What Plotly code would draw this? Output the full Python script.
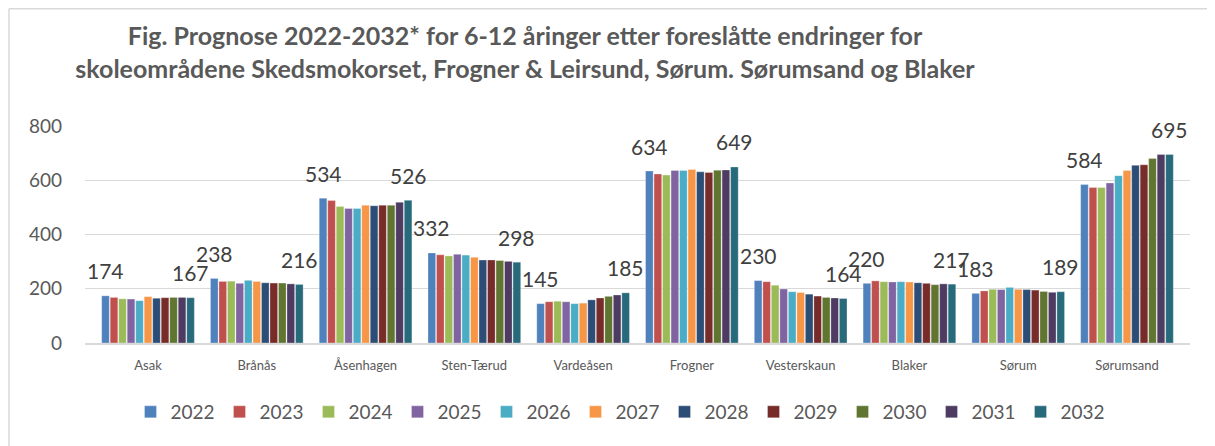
import plotly.graph_objects as go

categories = ["Asak", "Brånås", "Åsenhagen", "Sten-Tærud", "Vardeåsen", "Frogner",
              "Vesterskaun", "Blaker", "Sørum", "Sørumsand"]
years = ["2022", "2023", "2024", "2025", "2026", "2027", "2028", "2029", "2030", "2031", "2032"]

asak = [174, 168, 163, 162, 156, 171, 165, 167, 168, 168, 167]
branas = [238, 227, 228, 220, 231, 227, 222, 221, 221, 218, 216]
asenhagen = [534, 525, 503, 496, 496, 508, 506, 508, 508, 519, 526]
sten_taerud = [332, 325, 321, 327, 324, 316, 306, 306, 304, 301, 298]
vardeasen = [145, 152, 154, 152, 145, 147, 159, 166, 172, 177, 185]
frogner = [634, 623, 619, 636, 636, 640, 631, 629, 637, 638, 649]
vesterskaun = [230, 226, 213, 199, 189, 186, 180, 173, 168, 166, 164]
blaker = [220, 229, 226, 225, 226, 225, 222, 220, 215, 218, 217]
sorum = [183, 192, 198, 197, 205, 198, 197, 195, 190, 187, 189]
sorumsand = [584, 573, 573, 590, 617, 636, 655, 657, 680, 695, 695]

colors = ["#4F81BD", "#C0504D", "#9BBB59", "#8064A2", "#4BACC6", "#F79646",
          "#2C4D75", "#772C2A", "#5F7530", "#4D3B62", "#276A7C"]

rows = [asak, branas, asenhagen, sten_taerud, vardeasen, frogner,
        vesterskaun, blaker, sorum, sorumsand]

FONT = "Lato"
GRAY = "#595959"

# page is rendered with an 8px body offset; figure coords = page coords - 8
OFF = 8
W, H = 1215 - OFF, 446 - OFF

fig = go.Figure()
for j, yr in enumerate(years):
    fig.add_trace(go.Bar(
        name=yr, x=categories, y=[r[j] for r in rows],
        marker=dict(color=colors[j], line=dict(color="rgba(255,255,255,0.6)", width=0.5)),
        hoverinfo="x+y+name",
    ))

bargap = 0.14
nb = len(years)
slot = (1 - bargap) / nb
annotations = []
for i, r in enumerate(rows):
    for j in (0, nb - 1):
        off = -(1 - bargap) / 2 + (j + 0.5) * slot
        annotations.append(dict(
            x=i + off, y=r[j], xref="x", yref="y", text=str(r[j]),
            showarrow=False, yanchor="middle", yshift=25,
            font=dict(family=FONT, size=21, color="#404040"),
        ))

# plot area in page pixels: left 85, right 1190, top 126, bottom 343
PL = 85 - OFF
PR = W - (1190 - OFF)
PT = 126 - OFF
PB = H - (343 - OFF)
PW, PH = W - PL - PR, H - PT - PB

def px_x(page_x):
    return (page_x - OFF - PL) / PW

def px_y(page_y):
    return (H - PB - (page_y - OFF)) / PH

# chart border (left and top edges visible)
bx = px_x(9)
by = px_y(8.7)
shapes = [
    dict(type="line", xref="paper", yref="paper",
         x0=bx, x1=bx, y0=px_y(470), y1=by,
         line=dict(color="#D9D9D9", width=1.5)),
    dict(type="line", xref="paper", yref="paper",
         x0=bx, x1=px_x(1240), y0=by, y1=by,
         line=dict(color="#D9D9D9", width=1.5)),
]

fig.update_layout(
    width=W, height=H,
    margin=dict(l=PL, r=PR, t=PT, b=PB, autoexpand=False),
    paper_bgcolor="white", plot_bgcolor="white",
    barmode="group", bargap=bargap, bargroupgap=0.1,
    title=dict(
        text="<b>Fig. Prognose 2022-2032* for 6-12 åringer etter foreslåtte endringer for<br>"
             "skoleområdene Skedsmokorset, Frogner & Leirsund, Sørum. Sørumsand og Blaker</b>",
        x=(525 - OFF) / W, xanchor="center", y=1 - (45 - OFF) / H, yanchor="top",
        font=dict(family=FONT, size=25, color=GRAY),
    ),
    xaxis=dict(
        tickfont=dict(family=FONT, size=13, color=GRAY),
        showline=True, linecolor="#D9D9D9", linewidth=1.5, ticks="",
        automargin=False, ticklabelstandoff=10,
    ),
    yaxis=dict(
        range=[0, 800], dtick=200,
        tickfont=dict(family=FONT, size=19, color=GRAY),
        gridcolor="#D9D9D9", gridwidth=1, zeroline=False, ticks="",
        ticklabelstandoff=22, automargin=False,
    ),
    legend=dict(
        orientation="h", x=px_x(620), xanchor="center", y=px_y(393), yanchor="top",
        font=dict(family=FONT, size=19, color=GRAY),
        entrywidth=44, entrywidthmode="pixels",
        itemwidth=30, tracegroupgap=0,
    ),
    annotations=annotations,
    shapes=shapes,
)

fig.write_html("out.html")
